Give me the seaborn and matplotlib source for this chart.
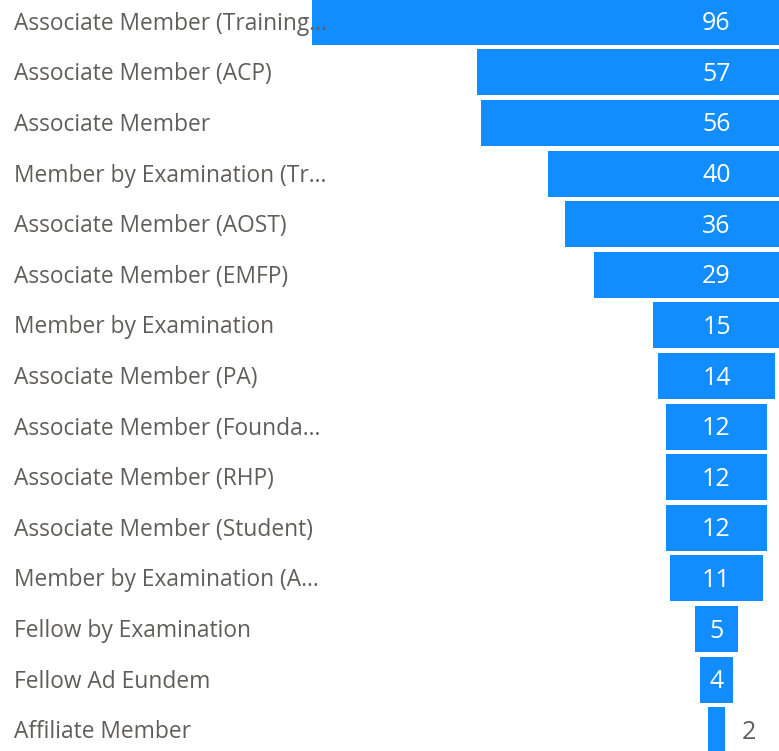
import numpy as np
import pandas as pd
import matplotlib
matplotlib.use("Agg")
import matplotlib.pyplot as plt
import seaborn as sns

# --------------------------------------------
# Data (funnel of membership types)
# --------------------------------------------
labels = [
    "Associate Member (Training\u2026",
    "Associate Member (ACP)",
    "Associate Member",
    "Member by Examination (Tr\u2026",
    "Associate Member (AOST)",
    "Associate Member (EMFP)",
    "Member by Examination",
    "Associate Member (PA)",
    "Associate Member (Founda\u2026",
    "Associate Member (RHP)",
    "Associate Member (Student)",
    "Member by Examination (A\u2026",
    "Fellow by Examination",
    "Fellow Ad Eundem",
    "Affiliate Member",
]
counts = [96, 57, 56, 40, 36, 29, 15, 14, 12, 12, 12, 11, 5, 4, 2]

df = pd.DataFrame({"label": labels, "count": counts})
df["half"] = df["count"] / 2

BLUE = "#118DFF"
GREY = "#605E5C"

sns.set_theme(style="white")
plt.rcParams["font.family"] = ["Open Sans", "DejaVu Sans"]

fig = plt.figure(figsize=(7.79, 7.51), dpi=100)
ax = fig.add_axes([0, 0, 1, 1])

# funnel = two mirrored bars around 0
sns.barplot(data=df, x="half", y="label", orient="h", color=BLUE,
            width=0.91, linewidth=0, saturation=1, ax=ax)
df["neg"] = -df["half"]
sns.barplot(data=df, x="neg", y="label", orient="h", color=BLUE,
            width=0.91, linewidth=0, saturation=1, ax=ax)

px_per_unit = 8.42
ax.set_xlim(-716.5 / px_per_unit, 62.5 / px_per_unit)
ax.set_ylim(14.41, -0.43)
ax.axis("off")

# category labels on the left
for i, lab in enumerate(labels):
    ax.text(14 / 779, i + 0.04, lab, transform=ax.get_yaxis_transform(),
            ha="left", va="center", fontsize=16.4, color=GREY, zorder=5)

# value labels
for i, v in enumerate(counts):
    if v >= 4:
        ax.text(0, i + 0.04, str(v), ha="center", va="center",
                fontsize=18, color="white", zorder=5)
    else:
        ax.text(v / 2 + 2.8, i + 0.04, str(v), ha="center", va="center",
                fontsize=18, color=GREY, zorder=5)

fig.savefig("out.png", dpi=100)
